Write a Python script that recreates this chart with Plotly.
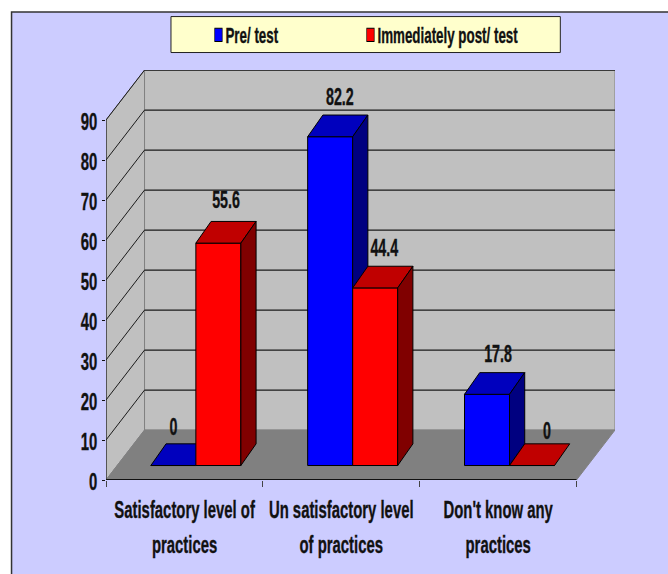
import plotly.graph_objects as go

# ---- data ----
categories = ["Satisfactory level of<br>practices",
              "Un satisfactory level<br>of practices",
              "Don't know any<br>practices"]
pre_test = [0, 82.2, 17.8]
post_test = [55.6, 44.4, 0]
y_ticks = [0, 10, 20, 30, 40, 50, 60, 70, 80, 90]
series_names = ["Pre/ test", "Immediately post/ test"]

# ---- geometry / style ----
W, H = 668, 574
FONT = "Liberation Sans, Arial, sans-serif"
INK = "#111111"
L, R, T, B = 105.5, 53.3, 70, 93.5
XMAX, YMAX = 3.2457, 102.5
WALL_DX, WALL_DY = 0.2457, 12.48   # depth of the plot box, in axis units
BAR_DX, BAR_DY = 0.097, 5.42       # depth of a bar
BASE = 3.62                        # bars stand this far in on the floor
SHIFT = 0.073
BAR_W = 0.287
CENTERS = [i + 0.5 + SHIFT for i in range(len(categories))]
LABEL_DY = 4.4 + BAR_DY
LABEL_NUDGE = [[0.0, 0.062, 0.07], [0.049, 0.058, 0.096]]
LABEL_NUDGE_Y = [[-0.7, -0.5, -0.3], [0.5, -0.5, -1.7]]
SQUEEZE = 0.62     # the reference text is a tall, narrow face


def px(x):
    return (x - L) / (W - L - R)


def py(y):
    return 1 - (y - T) / (H - T - B)


def poly(points):
    return "M " + " L ".join(f"{x} {y}" for x, y in points) + " Z"


def shape_path(points, fill, line=None, width=1, ref=("x", "y")):
    return dict(type="path", path=poly(points), xref=ref[0], yref=ref[1], layer="below",
                fillcolor=fill, line=dict(color=line or fill, width=width))


def seg(x0, y0, x1, y1, color, width):
    return dict(type="line", x0=x0, y0=y0, x1=x1, y1=y1, xref="x", yref="y", layer="below",
                line=dict(color=color, width=width))


n = len(categories)
top = y_ticks[-1]
shapes = [
    dict(type="rect", xref="paper", yref="paper", layer="below",
         x0=px(11), x1=px(720), y0=py(12), y1=py(620),
         fillcolor="#CCCCFF", line=dict(color="#333333", width=1.5)),
    dict(type="rect", xref="paper", yref="paper", layer="below",
         x0=px(170.5), x1=px(560), y0=py(16.5), y1=py(52.5),
         fillcolor="#FFFFCC", line=dict(color="#222222", width=1)),
    shape_path([(WALL_DX, WALL_DY), (n + WALL_DX, WALL_DY),
                (n + WALL_DX, top + WALL_DY), (WALL_DX, top + WALL_DY)], "#C0C0C0", "#808080", 1),
    shape_path([(0, 0), (WALL_DX, WALL_DY), (WALL_DX, top + WALL_DY), (0, top)],
               "#C0C0C0", "#808080", 1),
]
for v in y_ticks[1:]:
    shapes.append(seg(WALL_DX, v + WALL_DY, n + WALL_DX, v + WALL_DY, "#1a1a1a", 1.4))
    shapes.append(seg(0, v, WALL_DX, v + WALL_DY, "#1a1a1a", 1))
shapes += [
    shape_path([(0, 0), (n, 0), (n + WALL_DX, WALL_DY), (WALL_DX, WALL_DY)], "#808080", "#808080", 1),
    seg(0, 0, 0, top, "#222222", 1.2),
    seg(0, 0, n, 0, "#111111", 1.8),
]


def add_series(fig, values, name, front, top_c, side_c, xa, ya, slot):
    xs = [c + (slot - 0.5) * BAR_W for c in CENTERS]
    fig.add_trace(go.Bar(x=xs, y=values, base=BASE, width=BAR_W, name=name,
                         marker=dict(color=front, line=dict(color="#000000", width=1)),
                         xaxis=xa, yaxis=ya, hoverinfo="skip"))
    for x, v in zip(xs, values):
        x0, x1 = x - BAR_W / 2, x + BAR_W / 2
        y0, y1 = BASE, BASE + v
        faces = [([x0, x1, x1 + BAR_DX, x0 + BAR_DX, x0],
                  [y1, y1, y1 + BAR_DY, y1 + BAR_DY, y1], top_c)]
        if v > 0:
            faces.append(([x1, x1 + BAR_DX, x1 + BAR_DX, x1, x1],
                          [y0, y0 + BAR_DY, y1 + BAR_DY, y1, y0], side_c))
        for fx, fy, col in faces:
            fig.add_trace(go.Scatter(x=fx, y=fy, mode="lines", fill="toself", fillcolor=col,
                                     line=dict(color="#000000", width=1), showlegend=False,
                                     xaxis=xa, yaxis=ya, hoverinfo="skip"))
    fig.add_trace(go.Scatter(
        x=[x + d for x, d in zip(xs, LABEL_NUDGE[slot])],
        y=[BASE + v + LABEL_DY + d for v, d in zip(values, LABEL_NUDGE_Y[slot])],
        text=[str(v) for v in values], mode="text", textposition="middle center",
        textfont=dict(family=FONT, size=23, color=INK, weight="bold"), showlegend=False,
        xaxis=xa, yaxis=ya, hoverinfo="skip", cliponaxis=False))


fig = go.Figure()
add_series(fig, pre_test, series_names[0], "#0000FF", "#0000BE", "#000080", "x", "y", 0)
add_series(fig, post_test, series_names[1], "#FF0000", "#C00000", "#800000", "x2", "y2", 1)

LABEL_SIZE = 24
ticktext = ["<br>".join(f'<span style="font-size:{LABEL_SIZE}px">{p}</span>' for p in c.split("<br>"))
            for c in categories]

fig.update_layout(
    width=W, height=H, autosize=False,
    margin=dict(l=L, r=R, t=T, b=B, pad=0),
    paper_bgcolor="#FFFFFF", plot_bgcolor="rgba(0,0,0,0)",
    showlegend=True, shapes=shapes, hovermode=False,
    font=dict(family=FONT, color=INK),
    legend=dict(orientation="h", x=px(198), y=py(35), xanchor="left", yanchor="middle",
                bgcolor="rgba(0,0,0,0)", borderwidth=0, entrywidthmode="pixels", entrywidth=107,
                font=dict(family=FONT, size=22, color=INK, weight="bold"),
                itemsizing="trace", traceorder="normal"),
    xaxis=dict(range=[0, XMAX], tickmode="array", tickvals=[i + 0.5 for i in range(n)], ticktext=ticktext,
               ticks="", showgrid=False, zeroline=False, showline=False, fixedrange=True,
               tickfont=dict(family=FONT, size=27, color=INK, weight="bold"), tickangle=0, automargin=False,
               ticklabelstandoff=10,
               minor=dict(tickmode="array", tickvals=list(range(n + 1)), ticks="outside",
                          ticklen=6, tickcolor="#444444", tickwidth=1, showgrid=False)),
    yaxis=dict(range=[0, YMAX], tickmode="array", tickvals=y_ticks, ticks="outside", ticklen=3,
               tickcolor="#111111", tickwidth=1, showgrid=False, zeroline=False, showline=False,
               fixedrange=True, automargin=False,
               tickfont=dict(family=FONT, size=24, color=INK, weight="bold")),
    xaxis2=dict(overlaying="x", matches="x", visible=False),
    yaxis2=dict(overlaying="y", matches="y", visible=False),
)

post = """
document.body.style.margin='0';document.body.style.overflow='hidden';
var s=%s;
document.querySelectorAll('.legend .scrollbox').forEach(function(e){e.removeAttribute('clip-path');});
document.querySelectorAll('.legend').forEach(function(e){e.removeAttribute('clip-path');});
document.querySelectorAll('.xtick text, .ytick text, .legendtext, .textpoint text').forEach(function(e){
  var b=e.getBBox(), a=getComputedStyle(e).textAnchor;
  var cx=a==='end'?b.x+b.width:(a==='start'?b.x:b.x+b.width/2), cy=b.y+b.height/2;
  var extra='';
  if(e.classList.contains('legendtext')){extra='translate(-13 0) ';}
  if(e.closest('.ytick')){extra='translate(0 2) ';}
  e.setAttribute('transform',(e.getAttribute('transform')||'')+' '+extra+'translate('+cx+' '+cy+') scale('+(e.classList.contains('legendtext')?s*0.98:s)+' 1) translate('+(-cx)+' '+(-cy)+')');
  e.style.stroke='#111111';e.style.strokeWidth='0.35px';
  e.querySelectorAll('tspan').forEach(function(t){t.style.stroke='#111111';t.style.strokeWidth='0.35px';});
});
document.querySelectorAll('.legendbar path, .legendpoints path').forEach(function(e){
  var b=e.getBBox(), cx=b.x+b.width/2, cy=b.y+b.height/2;
  e.setAttribute('transform',(e.getAttribute('transform')||'')+' translate('+cx+' '+cy+') scale(0.62 1.1) translate('+(-cx)+' '+(-cy)+')');
});
""" % SQUEEZE

fig.write_html("out.html", post_script=post, config={"displayModeBar": False})
